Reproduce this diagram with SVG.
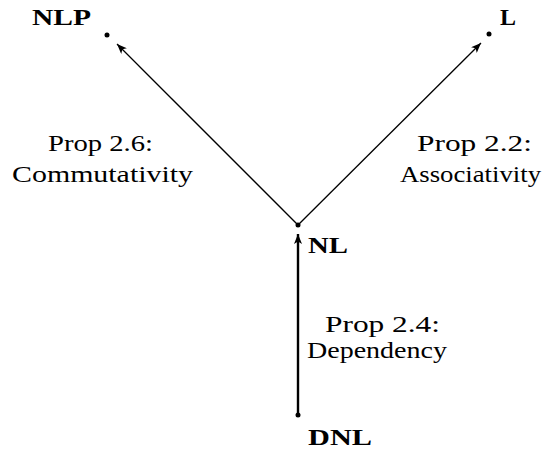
<svg xmlns="http://www.w3.org/2000/svg" width="543" height="451" viewBox="0 0 543 451">
  <style>
    .lbl { font-family: "Liberation Serif", "DejaVu Serif", serif; font-size: 24px; fill: #000; }
    .node { font-family: "Liberation Serif", "DejaVu Serif", serif; font-size: 24px; font-weight: bold; fill: #000; }
    .edge { stroke: #000; fill: none; }
  </style>
  <defs>
    <marker id="ah" viewBox="0 0 10 8" refX="10" refY="4" markerWidth="10" markerHeight="8" markerUnits="userSpaceOnUse" orient="auto">
      <path d="M0,0 L10,4 L0,8 L2.5,4 Z" fill="#000"/>
    </marker>
    <marker id="ahv" viewBox="0 0 10 8" refX="10" refY="4" markerWidth="11" markerHeight="8" markerUnits="userSpaceOnUse" orient="auto">
      <path d="M0,0 L10,4 L0,8 L2.5,4 Z" fill="#000"/>
    </marker>
  </defs>
  <rect width="543" height="451" fill="#fff"/>

  <g id="edges">
    <line class="edge" x1="298" y1="225" x2="117" y2="44" stroke-width="1.3" marker-end="url(#ah)"/>
    <line class="edge" x1="298" y1="225" x2="481" y2="43" stroke-width="1.3" marker-end="url(#ah)"/>
    <line class="edge" x1="298" y1="415" x2="298" y2="234" stroke-width="2.4" marker-end="url(#ahv)"/>
    <text class="lbl" x="48" y="151" textLength="105" lengthAdjust="spacingAndGlyphs">Prop 2.6:</text>
    <text class="lbl" x="12" y="182" textLength="181" lengthAdjust="spacingAndGlyphs">Commutativity</text>
    <text class="lbl" x="417" y="151" textLength="115" lengthAdjust="spacingAndGlyphs">Prop 2.2:</text>
    <text class="lbl" x="400" y="182" textLength="141" lengthAdjust="spacingAndGlyphs">Associativity</text>
    <text class="lbl" x="325" y="332" textLength="115" lengthAdjust="spacingAndGlyphs">Prop 2.4:</text>
    <text class="lbl" x="307" y="358" textLength="140" lengthAdjust="spacingAndGlyphs">Dependency</text>
  </g>

  <g id="NLP">
    <circle cx="107" cy="35" r="2.5" fill="#000"/>
    <text class="node" x="32" y="25" textLength="59" lengthAdjust="spacingAndGlyphs">NLP</text>
  </g>
  <g id="L">
    <circle cx="489" cy="34" r="2.5" fill="#000"/>
    <text class="node" x="500" y="25" textLength="16" lengthAdjust="spacingAndGlyphs">L</text>
  </g>
  <g id="NL">
    <circle cx="298" cy="225" r="2.5" fill="#000"/>
    <text class="node" x="308" y="253" textLength="40" lengthAdjust="spacingAndGlyphs">NL</text>
  </g>
  <g id="DNL">
    <circle cx="298" cy="415" r="2.5" fill="#000"/>
    <text class="node" x="308" y="445" textLength="64" lengthAdjust="spacingAndGlyphs">DNL</text>
  </g>
</svg>
